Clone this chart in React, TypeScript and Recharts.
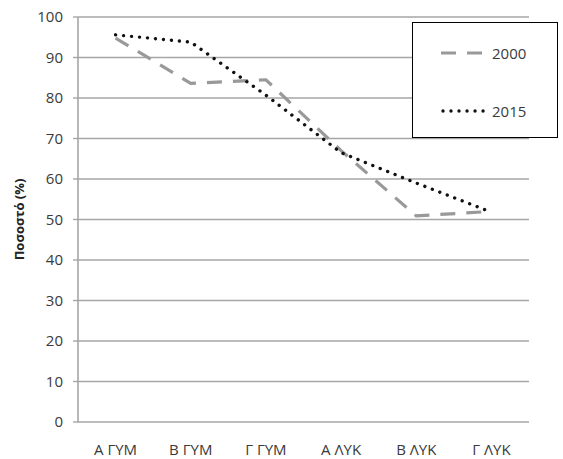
import React from 'react';
import {
  LineChart,
  Line,
  XAxis,
  YAxis,
  CartesianGrid,
  Legend,
} from 'recharts';

const categories = ['Α ΓΥΜ', 'Β ΓΥΜ', 'Γ ΓΥΜ', 'Α ΛΥΚ', 'Β ΛΥΚ', 'Γ ΛΥΚ'];
const values2000 = [94.8, 83.6, 84.5, 67, 50.9, 52];
const values2015 = [95.6, 93.8, 80.7, 66.5, 59, 51.8];
const yTicks = [0, 10, 20, 30, 40, 50, 60, 70, 80, 90, 100];
const boundaryTicks = [0, 1, 2, 3, 4, 5, 6];
const labelTicks = [0.5, 1.5, 2.5, 3.5, 4.5, 5.5];

const data = categories.map((name, i) => ({
  name,
  x: i + 0.5,
  y2000: values2000[i],
  y2015: values2015[i],
}));

const FONT = '"Open Sans", "Liberation Sans", sans-serif';
const TEXT = '#3a3a3a';
const GRID = '#a6a6a6';

const series = [
  { key: 'y2000', name: '2000', color: '#999999', dash: '15 11', width: 3.2, cap: 'butt' as const },
  { key: 'y2015', name: '2015', color: '#111111', dash: '0.01 8', width: 3.4, cap: 'round' as const },
];

const LegendBox = () => (
  <div style={{ position: 'relative', width: '100%', height: '100%', fontFamily: FONT }}>
    {series.map((s, i) => (
      <div
        key={s.key}
        style={{
          position: 'absolute',
          left: 28,
          top: i === 0 ? 20 : 78,
          display: 'flex',
          alignItems: 'center',
          height: 20,
        }}
      >
        <svg width={46} height={10}>
          <line
            x1={s.cap === 'round' ? 2 : 0}
            y1={5}
            x2={44}
            y2={5}
            stroke={s.color}
            strokeWidth={s.width}
            strokeDasharray={s.dash}
            strokeLinecap={s.cap}
          />
        </svg>
        <span style={{ marginLeft: 5, fontSize: 15, color: TEXT }}>{s.name}</span>
      </div>
    ))}
  </div>
);

export default function App() {
  return (
    <div style={{ position: 'absolute', left: 0, top: 0, background: '#fff' }}>
      <LineChart
        width={563}
        height={459}
        data={data}
        margin={{ top: 17, right: 34, bottom: 1, left: 30 }}
      >
        <CartesianGrid
          xAxisId="grid"
          vertical={false}
          stroke={GRID}
          strokeWidth={1.4}
        />
        <XAxis
          xAxisId="grid"
          type="number"
          dataKey="x"
          domain={[0, 6]}
          ticks={boundaryTicks}
          tickFormatter={() => ''}
          height={0}
          tickSize={6}
          stroke={GRID}
          axisLine={{ stroke: GRID, strokeWidth: 1.6 }}
          tickLine={{ stroke: GRID, strokeWidth: 1.4 }}
        />
        <XAxis
          xAxisId="labels"
          type="number"
          dataKey="x"
          domain={[0, 6]}
          ticks={labelTicks}
          interval={0}
          tickFormatter={(v: number) => categories[Math.round(v - 0.5)]}
          height={36}
          tickSize={0}
          tickMargin={22}
          axisLine={false}
          tickLine={false}
          tick={{ fill: TEXT, fontSize: 15, fontFamily: FONT }}
        />
        <YAxis
          type="number"
          domain={[0, 100]}
          ticks={yTicks}
          interval={0}
          width={48}
          tickSize={5}
          tickMargin={10}
          axisLine={{ stroke: GRID, strokeWidth: 1.6 }}
          tickLine={{ stroke: GRID, strokeWidth: 1.4 }}
          tick={{ fill: TEXT, fontSize: 15, fontFamily: FONT }}
          label={{
            value: 'Ποσοστό (%)',
            angle: -90,
            position: 'insideLeft',
            offset: -11,
            style: { textAnchor: 'middle', fontWeight: 700, fontSize: 13, fontFamily: FONT, fill: '#222' },
          }}
        />
        <Legend
          layout="horizontal"
          verticalAlign="middle"
          align="center"
          content={() => <LegendBox />}
          wrapperStyle={{
            left: 412,
            top: 22,
            width: 146,
            height: 116,
            border: '1.5px solid #000',
            boxSizing: 'border-box',
            background: '#fff',
          }}
        />
        {series.map((s) => (
          <Line
            key={s.key}
            xAxisId="grid"
            type="linear"
            dataKey={s.key}
            name={s.name}
            stroke={s.color}
            strokeWidth={s.width}
            strokeDasharray={s.dash}
            strokeLinecap={s.cap}
            dot={false}
            activeDot={false}
            isAnimationActive={false}
          />
        ))}
      </LineChart>
    </div>
  );
}
